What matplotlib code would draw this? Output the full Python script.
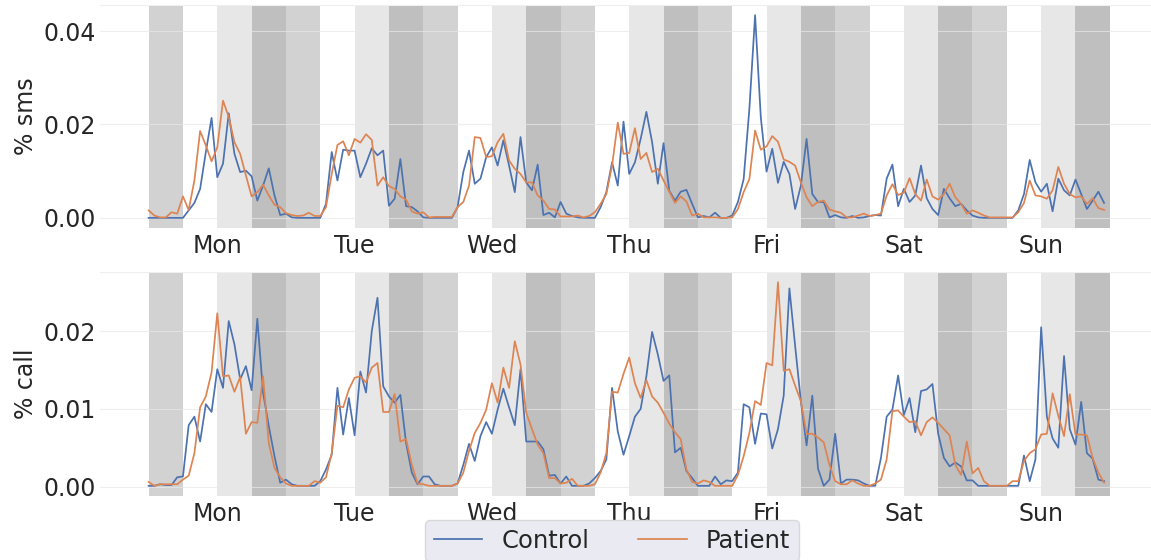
import matplotlib
matplotlib.use("Agg")
import matplotlib.pyplot as plt
import numpy as np

plt.rcParams.update({
    "font.family": "DejaVu Sans", "font.size": 17,
    "text.color": "#262626", "axes.labelcolor": "#262626",
    "xtick.color": "#262626", "ytick.color": "#262626",
    "xtick.major.size": 0, "ytick.major.size": 0,
})
BLUE, ORANGE = "#4C72B0", "#DD8452"
# quarter-day shading: night, morning, afternoon, evening
BAND_COLORS = ["#D2D2D2", "#FFFFFF", "#E7E7E7", "#BFBFBF"]

days = ["Mon", "Tue", "Wed", "Thu", "Fri", "Sat", "Sun"]

sms_control = [
    0, 0, 0, 0, 0, 0, 0, 0.0016, 0.0032, 0.0062, 0.0141, 0.0214, 0.0087, 0.0116, 0.0224, 0.0137, 0.0098, 0.0101, 0.0089, 0.0037, 0.0069, 0.0106, 0.0048, 0.0006,
    0.0009, 0.0001, 0, 0, 0, 0, 0, 0.003, 0.0141, 0.008, 0.0146, 0.0144, 0.0144, 0.0087, 0.0116, 0.0149, 0.0134, 0.0144, 0.0026, 0.0041, 0.0126, 0.0025, 0.0023, 0.0014,
    0.0001, 0, 0, 0, 0, 0, 0.0023, 0.0098, 0.0144, 0.0073, 0.0084, 0.013, 0.0151, 0.0112, 0.0166, 0.0112, 0.0055, 0.0173, 0.0076, 0.0059, 0.0114, 0.0006, 0.0011, 0.0001,
    0.0034, 0.0009, 0.0004, 0.0001, 0, 0, 0, 0.0023, 0.0055, 0.0119, 0.0069, 0.0206, 0.0094, 0.0119, 0.0169, 0.0227, 0.0162, 0.0073, 0.016, 0.0058, 0.0037, 0.0056, 0.006, 0.003,
    0.0001, 0.0004, 0.0001, 0.0011, 0, 0, 0.0005, 0.0034, 0.0083, 0.0233, 0.0434, 0.0215, 0.0099, 0.0148, 0.0075, 0.012, 0.0094, 0.0019, 0.0069, 0.0169, 0.0051, 0.0034, 0.0034, 0.0001,
    0.0006, 0.0001, 0, 0.0004, 0, 0.0001, 0.0004, 0.0006, 0.0005, 0.0084, 0.0114, 0.0025, 0.0062, 0.0034, 0.0048, 0.0112, 0.0042, 0.0019, 0.0006, 0.0062, 0.0042, 0.0025, 0.003, 0.0016,
    0.0005, 0.0001, 0, 0, 0, 0, 0, 0, 0.0016, 0.0051, 0.0124, 0.0076, 0.0056, 0.0073, 0.0014, 0.0084, 0.0059, 0.0048, 0.0082, 0.0051, 0.0019, 0.0037, 0.0056, 0.0032,
]
sms_patient = [
    0.0016, 0.0005, 0.0001, 0.0001, 0.0012, 0.0009, 0.0046, 0.0017, 0.008, 0.0186, 0.0155, 0.0121, 0.0151, 0.0251, 0.0216, 0.0162, 0.0137, 0.0091, 0.0046, 0.0055, 0.0071, 0.0048, 0.0028, 0.0023,
    0.001, 0.0006, 0.0004, 0.0005, 0.0011, 0.0004, 0.0004, 0.0023, 0.0094, 0.0156, 0.0164, 0.0134, 0.0169, 0.0161, 0.0179, 0.0167, 0.0069, 0.0087, 0.0068, 0.0062, 0.0046, 0.0039, 0.0014, 0.0009,
    0.0012, 0.0001, 0.0002, 0.0002, 0.0002, 0.0002, 0.0023, 0.0034, 0.0069, 0.0173, 0.0171, 0.013, 0.0132, 0.0162, 0.018, 0.0123, 0.0105, 0.0094, 0.0076, 0.0076, 0.0048, 0.0037, 0.0019, 0.0018,
    0.0003, 0.0003, 0.0003, 0.0005, 0.0001, 0.0004, 0.0012, 0.003, 0.0051, 0.0112, 0.0204, 0.0137, 0.0139, 0.0192, 0.0126, 0.0139, 0.0098, 0.0105, 0.008, 0.0056, 0.0032, 0.0046, 0.0035, 0.0005,
    0.0009, 0.0001, 0.0001, 0.0001, 0, 0, 0.0001, 0.0019, 0.0055, 0.0083, 0.0187, 0.0146, 0.0153, 0.0175, 0.0163, 0.0125, 0.012, 0.0112, 0.0076, 0.0044, 0.0025, 0.0034, 0.0037, 0.0018,
    0.0014, 0.0011, 0.0001, 0.0001, 0.0005, 0.0009, 0.0004, 0.0006, 0.0009, 0.0048, 0.0072, 0.0049, 0.0054, 0.0085, 0.0051, 0.0037, 0.0082, 0.0046, 0.0039, 0.0051, 0.0073, 0.0044, 0.003, 0.0009,
    0.0016, 0.0011, 0.0005, 0.0001, 0.0001, 0.0001, 0.0001, 0.0001, 0.0012, 0.0032, 0.008, 0.0048, 0.0046, 0.0041, 0.0059, 0.0109, 0.0073, 0.0051, 0.0044, 0.0046, 0.003, 0.0042, 0.0021, 0.0017,
]
call_control = [
    0.0001, 0.0001, 0.0003, 0.0002, 0.0002, 0.0012, 0.0013, 0.0079, 0.009, 0.0058, 0.0106, 0.0096, 0.0151, 0.0127, 0.0213, 0.0183, 0.0138, 0.0155, 0.0124, 0.0216, 0.0121, 0.0078, 0.0039, 0.0005,
    0.0009, 0.0003, 0.0001, 0.0001, 0.0001, 0.0001, 0.0007, 0.0022, 0.0041, 0.0127, 0.0067, 0.0114, 0.0066, 0.0148, 0.0121, 0.02, 0.0243, 0.0129, 0.0116, 0.0108, 0.0118, 0.0056, 0.0018, 0.0003,
    0.0013, 0.0013, 0.0003, 0.0001, 0.0001, 0.0001, 0.0004, 0.0028, 0.0055, 0.0033, 0.0065, 0.0083, 0.0068, 0.0099, 0.0126, 0.0102, 0.0079, 0.0151, 0.0058, 0.0058, 0.0058, 0.0048, 0.0014, 0.0015,
    0.0004, 0.0013, 0.0001, 0.0001, 0.0001, 0.0004, 0.0011, 0.002, 0.0035, 0.0127, 0.0071, 0.0041, 0.0065, 0.009, 0.01, 0.0142, 0.0199, 0.017, 0.0136, 0.0143, 0.0044, 0.005, 0.002, 0.0011,
    0.0001, 0.0001, 0.0001, 0.0013, 0.0003, 0.0008, 0.0007, 0.0018, 0.0106, 0.0102, 0.0055, 0.0094, 0.0093, 0.0049, 0.0074, 0.0117, 0.0255, 0.0181, 0.011, 0.0053, 0.0117, 0.0023, 0.0001, 0.0009,
    0.0068, 0.0004, 0.0009, 0.0009, 0.0008, 0.0004, 0.0001, 0.0001, 0.0037, 0.009, 0.0099, 0.0143, 0.0092, 0.0114, 0.007, 0.0123, 0.0125, 0.0132, 0.0068, 0.0037, 0.0026, 0.0031, 0.0026, 0.0008,
    0.0008, 0.0001, 0.0001, 0.0001, 0.0001, 0.0001, 0.0001, 0.0001, 0.0001, 0.004, 0.0007, 0.0035, 0.0205, 0.009, 0.0062, 0.005, 0.0168, 0.0074, 0.0054, 0.0109, 0.0043, 0.0036, 0.0009, 0.0007,
]
call_patient = [
    0.0006, 0.0001, 0.0003, 0.0003, 0.0003, 0.0003, 0.0009, 0.0014, 0.0043, 0.0102, 0.0116, 0.0147, 0.0223, 0.0142, 0.0143, 0.0122, 0.0141, 0.0068, 0.0083, 0.0082, 0.0142, 0.0056, 0.0024, 0.0012,
    0.0004, 0.0001, 0.0001, 0.0001, 0.0001, 0.0007, 0.0005, 0.0012, 0.0043, 0.0104, 0.0102, 0.0125, 0.014, 0.0142, 0.0134, 0.0153, 0.0159, 0.0096, 0.0096, 0.0119, 0.0058, 0.0061, 0.0028, 0.0004,
    0.0003, 0.0001, 0.0001, 0.0001, 0.0001, 0.0001, 0.0004, 0.0018, 0.0046, 0.0069, 0.0082, 0.0099, 0.0133, 0.0108, 0.0153, 0.0127, 0.0187, 0.0157, 0.0095, 0.0074, 0.0054, 0.0043, 0.0011, 0.0011,
    0.0004, 0.0005, 0.001, 0.0001, 0.0001, 0.0001, 0.0003, 0.0018, 0.0043, 0.0122, 0.0121, 0.0145, 0.0166, 0.0133, 0.0114, 0.0137, 0.0116, 0.0108, 0.0095, 0.0081, 0.007, 0.0061, 0.0022, 0.0006,
    0.0004, 0.0008, 0.0006, 0.0001, 0.0001, 0.0001, 0.0001, 0.0015, 0.0039, 0.0069, 0.011, 0.0105, 0.0159, 0.0156, 0.0263, 0.0149, 0.0151, 0.013, 0.011, 0.0068, 0.0068, 0.0063, 0.0057, 0.0028,
    0.0007, 0.0003, 0.0003, 0.0008, 0.0004, 0.0001, 0.0001, 0.0004, 0.0009, 0.0035, 0.0097, 0.0098, 0.009, 0.0083, 0.0084, 0.0066, 0.0083, 0.0089, 0.0082, 0.0074, 0.0066, 0.0028, 0.0015, 0.0058,
    0.0017, 0.0024, 0.0007, 0.0001, 0.0001, 0.0001, 0.0001, 0.0007, 0.0007, 0.0033, 0.0043, 0.0048, 0.0067, 0.0068, 0.012, 0.0091, 0.0065, 0.0119, 0.0067, 0.0067, 0.0066, 0.0037, 0.0018, 0.0005,
]


def panel(ax, control, patient, ylabel, yticks):
    hours = np.arange(len(control))
    for d in range(len(days)):
        for q, col in enumerate(BAND_COLORS):
            start = d * 24 + q * 6
            ax.axvspan(start, start + 6, color=col, lw=0, zorder=0)
    ax.plot(hours, control, color=BLUE, lw=1.25, zorder=3, label="Control")
    ax.plot(hours, patient, color=ORANGE, lw=1.25, zorder=3, label="Patient")
    ax.set_xlim(-8.5, 175.2)
    ax.set_xticks([d * 24 + 12 for d in range(len(days))])
    ax.set_xticklabels(days)
    ax.set_yticks(yticks)
    ax.set_yticklabels([f"{t:.2f}" for t in yticks])
    ax.set_ylabel(ylabel)
    ax.grid(axis="y", color="#E8E8E8", lw=0.8, alpha=0.7, zorder=1)
    ax.set_axisbelow(False)
    for side in ("left", "right", "bottom"):
        ax.spines[side].set_visible(False)
    ax.spines["top"].set_color("#EFEFEF")
    ax.tick_params(axis="x", pad=4)
    ax.tick_params(axis="y", pad=3)


fig = plt.figure(figsize=(11.51, 5.60), dpi=100)
ax1 = fig.add_axes([100 / 1151, 1 - 228 / 560, 1051 / 1151, 223 / 560])
ax2 = fig.add_axes([100 / 1151, 1 - 496 / 560, 1051 / 1151, 224 / 560])
panel(ax1, sms_control, sms_patient, "% sms", [0.0, 0.02, 0.04])
panel(ax2, call_control, call_patient, "% call", [0.0, 0.01, 0.02])
for ax in (ax1, ax2):
    ax.yaxis.set_label_coords(-0.059, 0.5)

h, l = ax1.get_legend_handles_labels()
leg = fig.legend(h, l, loc="upper center", bbox_to_anchor=(612 / 1151, 1 - 520 / 560),
                 ncol=2, frameon=True, facecolor="#EAEAF2", edgecolor="#D8D8D8",
                 framealpha=1, fontsize=17.5, borderpad=0.35, borderaxespad=0)

fig.savefig("out.png", dpi=100)
